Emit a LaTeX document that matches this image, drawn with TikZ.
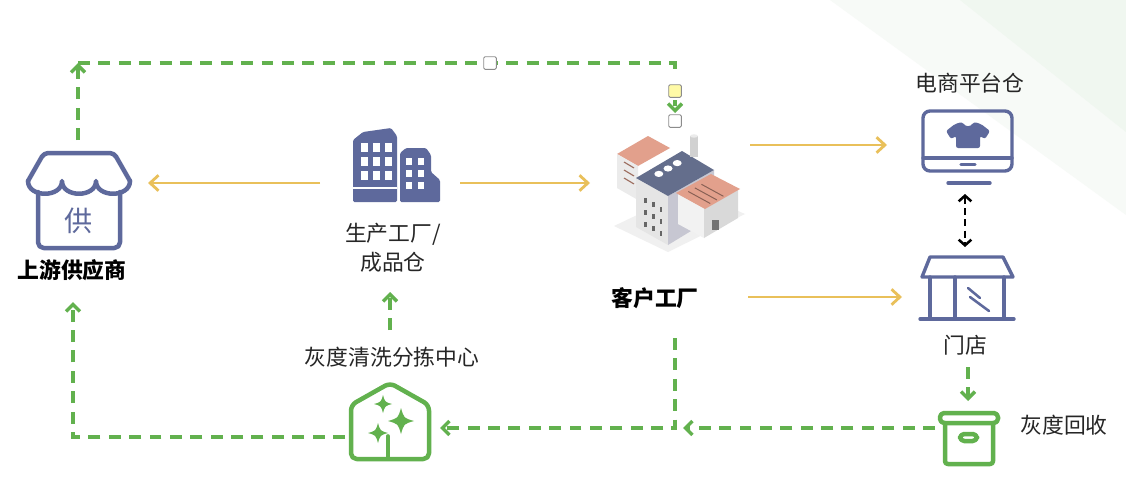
\documentclass[tikz,border=0pt]{standalone}
\usepackage{fontspec}
\setmainfont{Noto Sans CJK SC}
\usepackage{tikz}
\usetikzlibrary{arrows.meta,positioning,calc}

\definecolor{slate}{HTML}{5E699C}
\definecolor{leaf}{HTML}{62B14E}
\definecolor{gold}{HTML}{E9C05A}
\definecolor{salmon}{HTML}{E2A08C}
\definecolor{roofgrey}{HTML}{646E8C}

% four point sparkle
\newcommand\sparkle[3]{%
  \fill[leaf, shift={(#1,#2)}, scale=#3] (0,-1) .. controls (0.22,-0.22) .. (1,0)
    .. controls (0.22,0.22) .. (0,1) .. controls (-0.22,0.22) .. (-1,0)
    .. controls (-0.22,-0.22) .. cycle;}

\begin{document}
\begin{tikzpicture}[x=0.025cm, y=-0.025cm,
  lbl/.style={font=\fontsize{15.5}{21}\selectfont, text=black!85, inner sep=0pt, align=center},
  boldlbl/.style={lbl, font=\fontsize{15.5}{21}\selectfont\bfseries, text=black},
  icon/.style={draw=slate, line width=3.2pt, line join=round, line cap=round},
  thin icon/.style={draw=slate, line width=2.4pt, line join=round, line cap=round},
  green icon/.style={draw=leaf, line width=3.2pt, line join=round, line cap=round},
  yflow/.style={draw=gold, line width=2pt, -{Straight Barb[length=6pt, width=11pt, line width=2pt]}},
  gflow/.style={draw=leaf, line width=2.4pt, dash pattern=on 8.5pt off 6pt,
    -{Straight Barb[length=5pt, width=10pt, line width=2.4pt]}},
  gline/.style={draw=leaf, line width=2.4pt, dash pattern=on 8.5pt off 6pt},
  handle/.style={draw=black!45, line width=0.6pt, minimum size=9pt, inner sep=0pt}
]
\useasboundingbox (0,0) rectangle (1126,493);
\fill[white] (0,0) rectangle (1126,493);
\fill[green!40!black!3] (830,0) -- (1126,0) -- (1126,215) -- cycle;
\fill[green!50!black!6] (960,0) -- (1126,0) -- (1126,132) -- cycle;

% supplier shop
\draw[icon, rounded corners=3pt] (28,181) -- (44,153) -- (114,153) -- (130,181);
\draw[icon] (28,181) .. controls (28,198) and (62,198) .. (62,181)
  .. controls (62,198) and (96,198) .. (96,181)
  .. controls (96,198) and (130,198) .. (130,181);
\draw[icon, rounded corners=4pt] (38,192) -- (38,248) -- (120,248) -- (120,192);
\node [text=slate, font=\fontsize{20}{20}\selectfont] (supmark) at (79,221) {供};
\node [boldlbl] (supl) at (72,270) {上游供应商};

% production plant
\fill[slate, rounded corners=1pt] (353,202) -- (353,140) -- (363,132) -- (391,128) -- (397,136) -- (397,202) -- cycle;
\fill[slate, rounded corners=1pt] (400,202) -- (400,153) -- (406,148) -- (426,148) -- (431,155) -- (431,172) -- (440,180) -- (440,202) -- cycle;
\foreach \x in {361,373,385} \foreach \y in {143,157,171}
  \fill[white] (\x,\y) rectangle ++(7,9);
\foreach \x in {406,418} \foreach \y in {158,170,182}
  \fill[white] (\x,\y) rectangle ++(6,7);
\fill[white] (353,187) rectangle (397,189);
\node [lbl] (plantl) at (393,248) {生产工厂/\\成品仓};

% customer factory
\fill[black!6] (614,226) -- (668,252) -- (745,214) -- (690,190) -- cycle;
\fill[salmon] (617,154) -- (648,136) -- (670,148) -- (638,166) -- cycle;
\fill[black!8] (617,154) -- (638,166) -- (638,200) -- (617,188) -- cycle;
\foreach \y in {162,170,178} \draw[salmon!70!black, line width=0.8pt] (624,\y) -- ++(10,6);
\fill[black!10] (636,178) -- (668,196) -- (668,245) -- (636,227) -- cycle;
\fill[blue!20!black!22] (668,196) -- (714,170) -- (714,217) -- (668,245) -- cycle;
\fill[roofgrey] (636,178) -- (682,151) -- (714,170) -- (668,196) -- cycle;
\foreach \t in {0.3,0.5,0.7}
  \fill[white] ($(641,177)!\t!(687,150)$) ++(4,5) ellipse (3.2pt and 2.2pt);
\fill[black!18] (690,136) rectangle (698,157);
\fill[black!8] (694,136) ellipse (2.8pt and 1.2pt);
\foreach \y in {198,210,222} {
  \fill[black!60] (644,\y) rectangle ++(3,5);
  \fill[black!60] (652,\y+4) rectangle ++(3,5);
  \fill[black!60] (660,\y+9) rectangle ++(2,5);
}
\fill[black!5] (678,194) -- (704,208) -- (704,238) -- (678,224) -- cycle;
\fill[black!15] (704,208) -- (738,189) -- (738,218) -- (704,238) -- cycle;
\fill[salmon] (676,193) -- (711,174) -- (740,189) -- (705,209) -- cycle;
\foreach \t in {0.25,0.45,0.65} \draw[salmon!60!black, line width=0.7pt]
  ($(680,196)!\t!(713,178)$) -- ++(22,12);
\fill[black!55] (712,220) rectangle ++(7,10);
\node [boldlbl] (custl) at (655,298) {客户工厂};

% e-commerce warehouse
\draw[thin icon, rounded corners=5pt] (923,111) rectangle (1012,171);
\draw[thin icon] (923,158) -- (1012,158);
\draw[thin icon] (961,164.5) -- (975,164.5);
\draw[thin icon] (948,183) -- (990,183);
\fill[slate, rounded corners=1.5pt] (955,124) -- (962,122) .. controls (966,127) and (970,127) .. (974,122)
  -- (981,124) -- (990,131) -- (985,139) -- (980,136) -- (980,148) -- (956,148)
  -- (956,136) -- (951,139) -- (946,131) -- cycle;
\node [lbl] (ecoml) at (970,83) {电商平台仓};

% store
\draw[thin icon] (930,257) -- (1003,257) -- (1013,277) -- (922,277) -- cycle;
\draw[thin icon] (930,277) -- (930,318);
\draw[thin icon] (1004,277) -- (1004,318);
\draw[thin icon] (955,277) -- (955,318);
\draw[thin icon] (920,319) -- (1014,319);
\draw[thin icon, line width=1.8pt] (968,288) -- (980,298);
\draw[thin icon, line width=1.8pt] (970,297) -- (989,311);
\node [lbl] (storel) at (965,345) {门店};

% recycle bin
\draw[green icon, rounded corners=3pt] (940,413) rectangle (998,423);
\draw[green icon, rounded corners=2pt] (945,423) -- (945,464) -- (993,464) -- (993,423);
\draw[green icon, rounded corners=3pt] (960,434) rectangle (977,441);
\node [lbl] (binl) at (1064,425) {灰度回收};

% cleaning and sorting centre
\draw[green icon, rounded corners=4pt] (390,383) -- (429,405) -- (429,459) -- (351,459) -- (351,405) -- cycle;
\sparkle{383}{404}{9}
\sparkle{401}{421}{13}
\sparkle{378}{433}{10}
\draw[green icon, line width=2.6pt] (388,436) -- (388,459);
\node [lbl] (cleanl) at (392,357) {灰度清洗分拣中心};

% connector ends
\coordinate (sup-e) at (148,183);
\coordinate (plant-w) at (320,183);
\coordinate (plant-e) at (460,183);
\coordinate (cust-w) at (590,183);
\coordinate (cust-ne) at (750,145);
\coordinate (ecom-w) at (887,145);
\coordinate (custl-e) at (748,297);
\coordinate (store-w) at (902,297);
\coordinate (ecom-s) at (965,194);
\coordinate (store-n) at (965,247);
\coordinate (sup-n) at (78,140);
\coordinate (top-l) at (78,63);
\coordinate (top-r) at (675,63);
\coordinate (top-d) at (675,69);
\coordinate (cust-in) at (675,100);
\coordinate (cust-n) at (675,113);
\coordinate (sup-s) at (73,302);
\coordinate (clean-w) at (345,437);
\coordinate (clean-n) at (390,330);
\coordinate (plant-s) at (390,292);
\coordinate (store-s) at (968,367);
\coordinate (bin-n) at (968,401);
\coordinate (bin-w) at (935,428);
\coordinate (drop) at (683,428);
\coordinate (custl-s) at (675,338);
\coordinate (clean-e) at (440,428);

\draw [yflow] (plant-w) -- (sup-e);
\draw [yflow] (plant-e) -- (cust-w);
\draw [yflow] (cust-ne) -- (ecom-w);
\draw [yflow] (custl-e) -- (store-w);
\draw [black, line width=1.8pt, dash pattern=on 5pt off 3pt,
  {Straight Barb[length=4pt, width=9pt, line width=1.8pt]}-{Straight Barb[length=4pt, width=9pt, line width=1.8pt]}]
  (ecom-s) -- (store-n);

\draw [gflow] (sup-n) -- (top-l);
\draw [gline] (top-l) -- (top-r) -- (top-d);
\draw [gflow, dash pattern=on 4pt off 20pt] (cust-in) -- (cust-n);
\draw [gflow] (clean-w) -| (sup-s);
\draw [gflow] (clean-n) -- (plant-s);
\draw [gflow] (store-s) -- (bin-n);
\draw [gflow] (bin-w) -- (drop);
\draw [gflow] (custl-s) |- (clean-e);

% connector handles
\node [handle, fill=white, rounded corners=1pt] (h1) at (490,63) {};
\node [handle, fill=yellow!35, rounded corners=1pt] (h2) at (675,91) {};
\node [handle, fill=white, rounded corners=1pt] (h3) at (675,121) {};
\end{tikzpicture}
\end{document}
